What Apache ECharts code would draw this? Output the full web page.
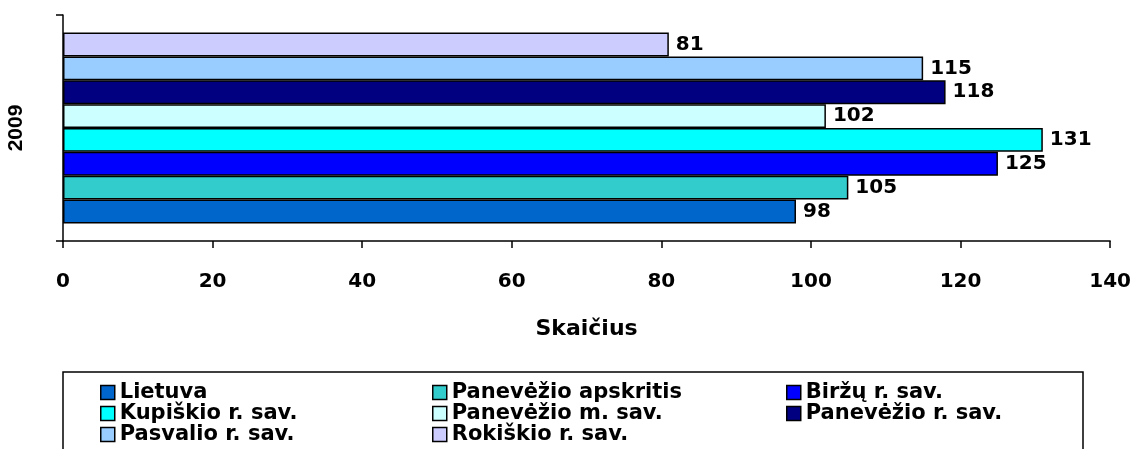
<!DOCTYPE html>
<html>
<head>
<meta charset="utf-8">
<script src="https://cdn.jsdelivr.net/npm/echarts@6/dist/echarts.min.js"></script>
<style>
html,body{margin:0;padding:0;background:#fff;}
#c{width:1134px;height:449px;}
</style>
</head>
<body>
<div id="c"></div>
<script>
const categories = ['2009'];
const seriesNames = ['Lietuva','Panevėžio apskritis','Biržų r. sav.','Kupiškio r. sav.','Panevėžio m. sav.','Panevėžio r. sav.','Pasvalio r. sav.','Rokiškio r. sav.'];
const seriesValues = [98, 105, 125, 131, 102, 118, 115, 81];
const seriesColors = ['#0066CC','#33CCCC','#0000FF','#00FFFF','#CCFFFF','#000080','#99CCFF','#CCCCFF'];
const xTicks = [0, 20, 40, 60, 80, 100, 120, 140];
const legendCols = [
  ['Lietuva','Kupiškio r. sav.','Pasvalio r. sav.'],
  ['Panevėžio apskritis','Panevėžio m. sav.','Rokiškio r. sav.'],
  ['Biržų r. sav.','Panevėžio r. sav.']
];

const WIDE = '"DejaVu Sans", Verdana, sans-serif';
const NARROW = '"Liberation Sans", Arial, sans-serif';
const chart = echarts.init(document.getElementById('c'), null, {renderer:'canvas'});

// first series (Lietuva) is drawn at the bottom: add series in reverse order
const series = seriesNames.map((n, i) => ({
  name: n,
  type: 'bar',
  data: [seriesValues[i]],
  barGap: '0%',
  barCategoryGap: '15.5%',
  itemStyle: {color: seriesColors[i], borderColor: '#000', borderWidth: 1.5},
  label: {show: true, position: 'right', distance: 7, color: '#000',
          fontFamily: WIDE, fontWeight: 'bold', fontSize: 20},
  emphasis: {disabled: true},
  animation: false
})).reverse();

const legendLefts = [100, 432, 786];
const legends = legendCols.map((cols, i) => ({
  orient: 'vertical',
  left: legendLefts[i],
  top: 382,
  padding: 0,
  itemGap: 0,
  itemWidth: 14,
  itemHeight: 14,
  icon: 'rect',
  data: cols,
  selectedMode: false,
  itemStyle: {borderColor: '#000', borderWidth: 1.5},
  textStyle: {fontFamily: WIDE, fontWeight: 'bold', fontSize: 21, color: '#000', lineHeight: 21}
}));

chart.setOption({
  animation: false,
  backgroundColor: '#fff',
  grid: {left: 63, right: 23, top: 15, bottom: 208, containLabel: false},
  xAxis: {
    type: 'value',
    min: xTicks[0], max: xTicks[xTicks.length-1], interval: 20,
    name: 'Skaičius', nameLocation: 'middle', nameGap: 77,
    nameTextStyle: {fontFamily: WIDE, fontWeight: 'bold', fontSize: 22, color: '#000'},
    axisLine: {show: true, lineStyle: {color: '#000', width: 1.5}},
    axisTick: {show: true, length: 7, lineStyle: {color: '#000', width: 1.5}},
    splitLine: {show: false},
    axisLabel: {fontFamily: WIDE, fontWeight: 'bold', fontSize: 20, color: '#000', margin: 31}
  },
  yAxis: {
    type: 'category',
    data: categories,
    axisLine: {show: true, lineStyle: {color: '#000', width: 1.5}},
    axisTick: {show: true, length: 7, lineStyle: {color: '#000', width: 1.5}},
    axisLabel: {fontFamily: NARROW, fontWeight: 'bold', fontSize: 21, color: '#000', rotate: 90, margin: 36}
  },
  legend: legends,
  graphic: [{
    type: 'rect', silent: true,
    shape: {x: 63, y: 372, width: 1020, height: 100},
    style: {fill: 'none', stroke: '#000', lineWidth: 1.5}
  }],
  series: series
});
</script>
</body>
</html>
